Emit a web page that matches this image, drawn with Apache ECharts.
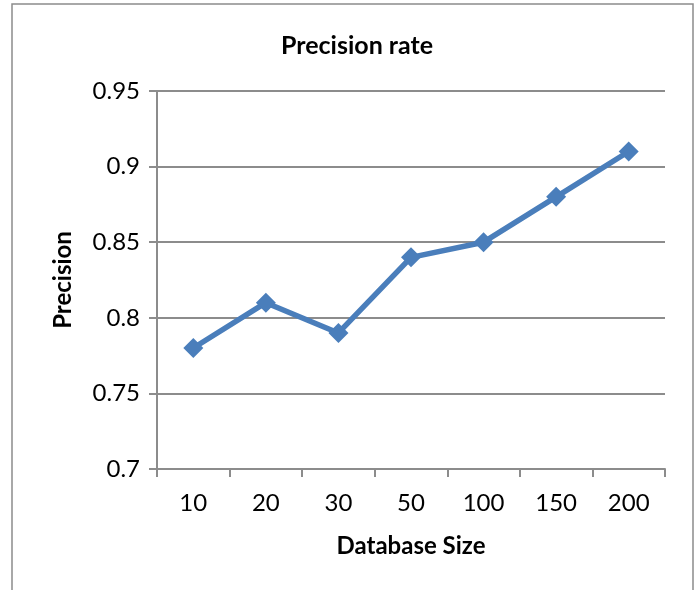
<!DOCTYPE html>
<html>
<head>
<meta charset="utf-8">
<script src="https://cdn.jsdelivr.net/npm/echarts@6/dist/echarts.min.js"></script>
<style>html,body{margin:0;padding:0;background:#fff;}#c{width:699px;height:590px;}</style>
</head>
<body>
<div id="c"></div>
<script>
var categories = ['10', '20', '30', '50', '100', '150', '200'];
var precision = [0.78, 0.81, 0.79, 0.84, 0.85, 0.88, 0.91];
var yTicks = [0.7, 0.75, 0.8, 0.85, 0.9, 0.95];

var chart = echarts.init(document.getElementById('c'), null, {renderer: 'canvas'});
var font = 'Lato, "Open Sans", sans-serif';
chart.setOption({
  animation: false,
  backgroundColor: '#fff',
  graphic: [
    {type: 'rect', shape: {x: 12, y: 4, width: 681, height: 600}, style: {fill: 'none', stroke: '#8c8c8c', lineWidth: 1.5}, z: -1}
  ],
  title: {
    text: 'Precision rate', left: 352, top: 28, textAlign: 'center',
    textStyle: {fontFamily: font, fontSize: 25, fontWeight: 'bold', color: '#000'}
  },
  grid: {left: 157, right: 34, top: 91, bottom: 121},
  xAxis: {
    type: 'category', data: categories, boundaryGap: true,
    name: 'Database Size', nameLocation: 'middle', nameGap: 65,
    nameTextStyle: {fontFamily: font, fontSize: 24, fontWeight: 'bold', color: '#000'},
    axisLine: {lineStyle: {color: '#8c8c8c', width: 2}},
    axisTick: {show: true, length: 8, alignWithLabel: false, lineStyle: {color: '#8c8c8c', width: 2}},
    axisLabel: {fontFamily: font, fontSize: 24, color: '#000', margin: 22}
  },
  yAxis: {
    type: 'value', min: 0.7, max: 0.95, interval: 0.05,
    name: 'Precision', nameLocation: 'middle', nameGap: 82,
    nameTextStyle: {fontFamily: font, fontSize: 24, fontWeight: 'bold', color: '#000'},
    axisLine: {show: true, lineStyle: {color: '#8c8c8c', width: 2}},
    axisTick: {show: true, length: 8, lineStyle: {color: '#8c8c8c', width: 2}},
    splitLine: {show: true, lineStyle: {color: '#8c8c8c', width: 2}},
    axisLabel: {fontFamily: font, fontSize: 24, color: '#000', margin: 17,
      formatter: function (v) { return String(parseFloat(v.toFixed(2))); }}
  },
  series: [{
    type: 'line', data: precision,
    symbol: 'diamond', symbolSize: 20,
    lineStyle: {color: '#4a7ebb', width: 5.5},
    itemStyle: {color: '#4a7ebb'}
  }]
});
</script>
</body>
</html>
